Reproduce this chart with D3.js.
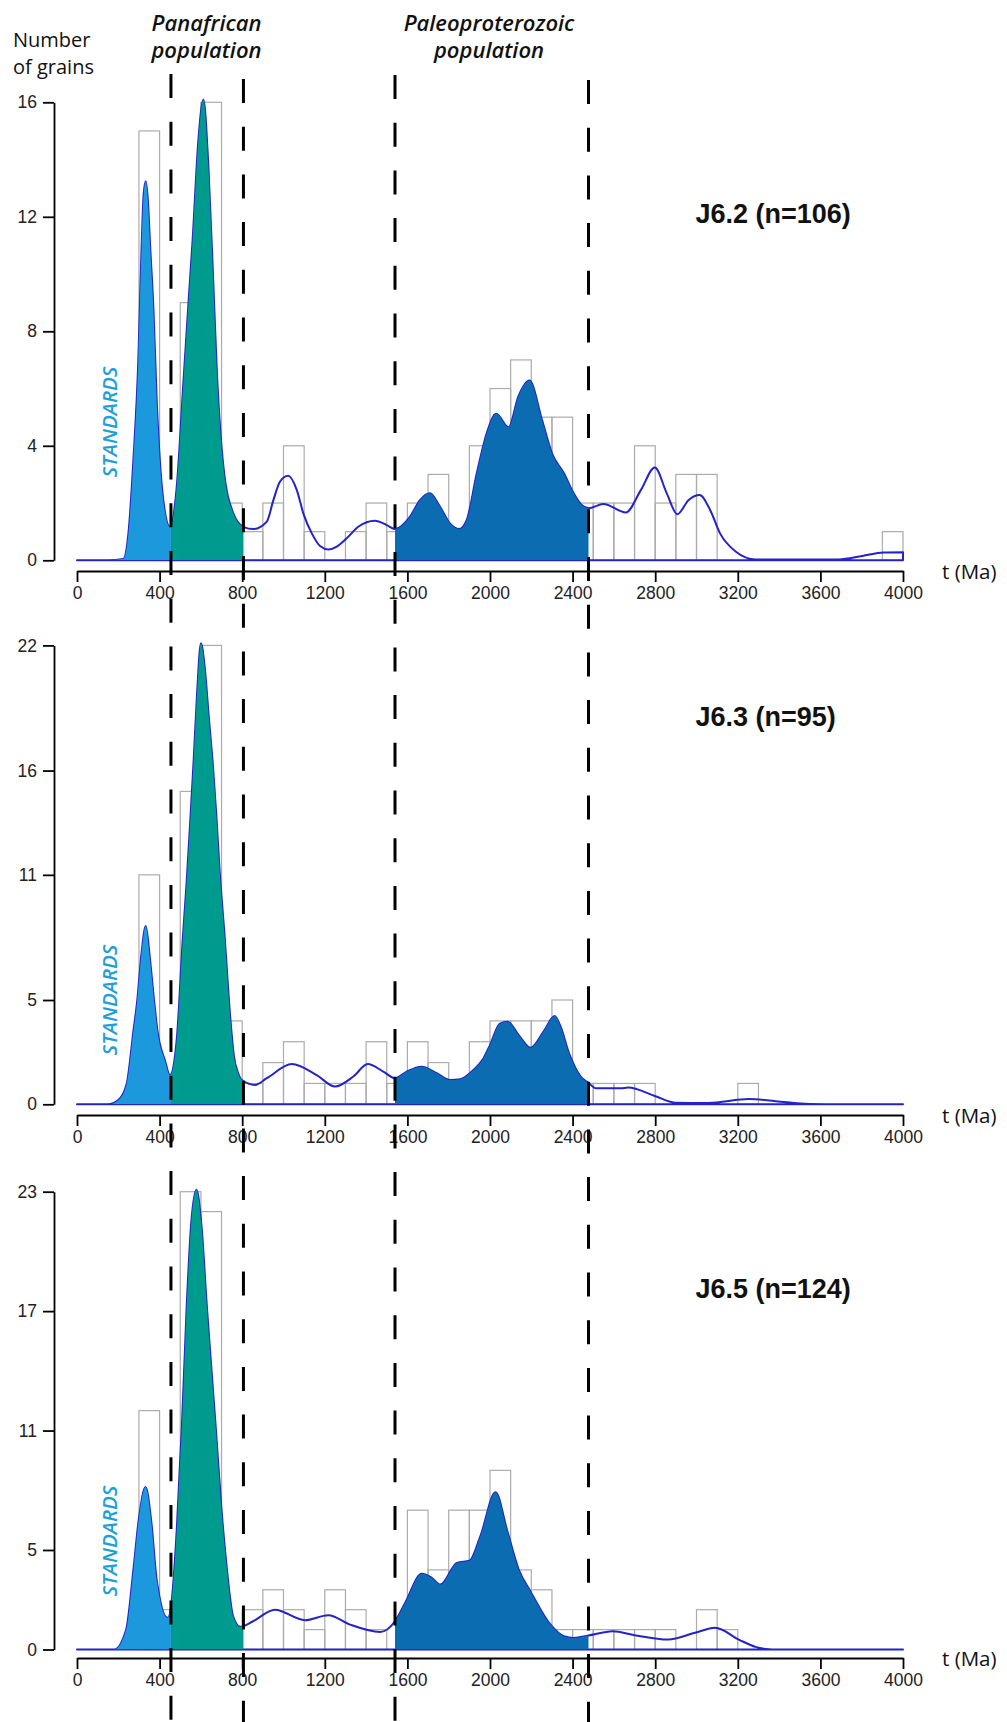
<!DOCTYPE html>
<html>
<head>
<meta charset="utf-8">
<script src="https://cdn.jsdelivr.net/npm/d3@7"></script>
<style>
  html, body { margin: 0; padding: 0; background: #fff; }
  svg { display: block; }
</style>
</head>
<body>
<svg id="chart" width="1007" height="1722"></svg>
<script>
// ---------------- DATA ----------------
const binStarts = [0,100,200,300,400,500,600,700,800,900,1000,1100,1200,1300,1400,1500,1600,1700,1800,1900,
                   2000,2100,2200,2300,2400,2500,2600,2700,2800,2900,3000,3100,3200,3300,3400,3500,3600,3700,3800,3900];
const binWidth = 100;

const counts1 = [0,0,0,15,1,9,16,2,1,2,4,1,0,1,2,1,2,3,0,4,6,7,5,5,2,2,2,4,2,3,3,0,0,0,0,0,0,0,0,1];
const counts2 = [0,0,0,11,0,15,22,4,1,2,3,1,1,1,3,1,3,2,0,3,4,4,4,5,1,1,1,1,0,0,0,0,1,0,0,0,0,0,0,0];
const counts3 = [0,0,0,12,2,23,22,1,2,3,2,1,3,2,1,0,7,4,7,7,9,4,3,1,1,1,1,1,1,0,2,1,0,0,0,0,0,0,0,0];

// probability density curves: [age (Ma), height in grains]
const kde1 = [[0,0],[150,0],[224,0.05],[249,0.94],[273,3.5],[297,7.0],[313,11.0],[323,12.8],[333,13.24],[343,12.6],
  [354,11.0],[370,8.8],[386,5.6],[418,2.1],[450,1.17],[483,2.57],[515,6.19],[539,8.9],[560,11.2],[587,14.6],
  [612,16.1],[636,13.8],[660,9.7],[676,6.8],[709,3.27],[757,1.64],[805,1.17],[854,1.09],[919,1.35],[951,2.1],
  [983,2.75],[1023,2.95],[1064,2.46],[1096,1.64],[1137,0.94],[1177,0.5],[1217,0.38],[1258,0.48],[1306,0.77],
  [1362,1.17],[1443,1.38],[1500,1.23],[1540,1.09],[1613,1.53],[1661,2.1],[1709,2.34],[1758,1.87],[1806,1.29],
  [1851,1.09],[1887,1.4],[1936,3.04],[1984,4.44],[2030,5.12],[2090,4.65],[2137,5.72],[2191,6.28],[2252,4.9],
  [2300,3.74],[2358,3.04],[2405,2.34],[2444,1.93],[2477,1.82],[2549,1.97],[2658,1.67],[2731,2.46],[2798,3.24],
  [2856,2.34],[2907,1.61],[2961,2.1],[3015,2.28],[3066,1.76],[3114,0.94],[3191,0.3],[3286,0.03],[3689,0.03],
  [3803,0.15],[3905,0.27],[4000,0.28]];

const kde2 = [[0,0],[150,0],[200,0.2],[241,1.0],[273,3.5],[292,5.0],[312,7.2],[333,8.55],[353,7.0],[373,5.0],
  [390,3.5],[426,2.1],[450,1.4],[483,3.1],[512,7.9],[530,10.5],[548,13.5],[565,16.5],[582,19.8],[600,22.1],
  [618,21.0],[638,18.6],[660,16.0],[675,13.8],[690,11.3],[716,7.9],[741,4.3],[760,2.3],[780,1.5],[800,1.15],
  [862,0.93],[919,1.25],[1040,1.93],
  [1161,1.4],[1249,0.85],[1338,1.33],[1408,1.93],[1483,1.57],[1540,1.25],[1597,1.57],[1669,1.8],[1742,1.49],
  [1806,1.16],[1855,1.2],[1919,1.64],[1968,2.2],[2000,2.84],[2048,3.87],[2085,3.96],[2140,3.3],[2196,2.71],
  [2260,3.5],[2313,4.23],[2342,3.72],[2383,2.44],[2440,1.32],[2476,1.03],[2513,0.77],[2635,0.77],[2668,0.8],
  [2798,0.4],[2895,0.08],[3058,0.06],[3254,0.25],[3384,0.15],[3547,0.02],[3700,0],[4000,0]];

const kde3 = [[0,0],[181,0],[238,1.0],[273,4.0],[300,6.6],[332,8.16],[360,6.4],[386,3.5],[439,1.59],[483,6.0],
  [499,9.4],[507,11.0],[531,17.2],[553,21.4],[578,23.1],[602,21.4],[629,17.2],[673,11.0],[700,7.0],[723,4.34],
  [756,1.67],[790,1.14],[853,1.42],[958,2.0],[1104,1.47],[1217,1.72],[1322,1.25],[1468,0.88],[1540,1.42],
  [1589,2.34],[1670,3.81],[1718,3.6],[1759,3.26],[1840,4.35],[1901,4.46],[1953,5.68],[2027,7.9],[2082,6.02],
  [2139,4.02],[2196,2.92],[2293,1.25],[2358,0.67],[2407,0.58],[2476,0.7],[2595,0.92],[2700,0.72],[2863,0.5],
  [2993,0.84],[3091,1.09],[3205,0.5],[3286,0.13],[3335,0.03],[3400,0],[4000,0]];

const yTicks1 = [0,4,8,12,16];
const yTicks2 = [0,5,11,16,22];
const yTicks3 = [0,5,11,17,23];
const yMax = [16,22,23];
const xTicks = [0,400,800,1200,1600,2000,2400,2800,3200,3600,4000];
const titles = ["J6.2 (n=106)","J6.3 (n=95)","J6.5 (n=124)"];
// population limits (Ma): standards | Panafrican | ... | Paleoproterozoic
const limits = [455, 806, 1540, 2477];
const regions = [
  {from: 0,    to: 455,  color: "#1c98dc"},
  {from: 455,  to: 806,  color: "#009b8f"},
  {from: 1540, to: 2477, color: "#0b6cb1"}
];

// ---------------- LAYOUT ----------------
const svg = d3.select("#chart");
const x = d3.scaleLinear().domain([0, 4000]).range([77, 903]);

const panels = [
  {zero: 560.3,  top: 102.3,  axisY: 571,    ticks: yTicks1, counts: counts1, kde: kde1, titleY: 223,  stdY: 422},
  {zero: 1104.3, top: 645.4,  axisY: 1115,   ticks: yTicks2, counts: counts2, kde: kde2, titleY: 726,  stdY: 1000},
  {zero: 1649.5, top: 1191.7, axisY: 1658,   ticks: yTicks3, counts: counts3, kde: kde3, titleY: 1298, stdY: 1541}
];

const curveColor = "#2323c8";
const defs = svg.append("defs");

panels.forEach((p, pi) => {
  const y = d3.scaleLinear().domain([0, yMax[pi]]).range([p.zero, p.top]);
  const g = svg.append("g");

  // histogram bars
  g.append("g").selectAll("rect")
    .data(binStarts.map((b, i) => ({b, c: p.counts[i]})).filter(d => d.c > 0))
    .join("rect")
    .attr("x", d => x(d.b))
    .attr("y", d => y(d.c))
    .attr("width", d => x(d.b + binWidth) - x(d.b))
    .attr("height", d => y(0) - y(d.c))
    .attr("fill", "none")
    .attr("stroke", "#ababab")
    .attr("stroke-width", 1.2);

  const area = d3.area()
    .x(d => x(d[0]))
    .y0(y(0))
    .y1(d => y(d[1]))
    .curve(d3.curveMonotoneX);

  // outline of density curve (closed on baseline)
  g.append("path")
    .attr("d", area(p.kde))
    .attr("fill", "none")
    .attr("stroke", curveColor)
    .attr("stroke-width", 2)
    .attr("stroke-linejoin", "round");

  // coloured population fills
  regions.forEach((r, ri) => {
    const id = `clip-${pi}-${ri}`;
    defs.append("clipPath").attr("id", id)
      .append("rect")
      .attr("x", x(r.from)).attr("y", p.top - 20)
      .attr("width", x(r.to) - x(r.from))
      .attr("height", p.zero - p.top + 20);
    g.append("path")
      .attr("d", area(p.kde))
      .attr("fill", r.color)
      .attr("clip-path", `url(#${id})`);
  });

  // y axis
  const yAxis = d3.axisLeft(y).tickValues(p.ticks).tickSize(11).tickSizeOuter(0).tickPadding(6)
    .tickFormat(d3.format("d"));
  const ya = svg.append("g").attr("transform", "translate(54,0)").call(yAxis);
  ya.select(".domain").attr("stroke", "#000").attr("stroke-width", 1.8);
  ya.selectAll(".tick line").attr("stroke", "#000").attr("stroke-width", 1.8);
  ya.selectAll(".tick text").attr("font-family", "Liberation Sans, Arial, sans-serif")
    .attr("font-size", 17.5).attr("fill", "#222");

  // x axis
  const xAxis = d3.axisBottom(x).tickValues(xTicks).tickSize(11).tickSizeOuter(0).tickPadding(5)
    .tickFormat(d3.format("d"));
  const xa = svg.append("g").attr("transform", `translate(0,${p.axisY})`).call(xAxis);
  xa.select(".domain").attr("stroke", "#000").attr("stroke-width", 1.8);
  xa.selectAll(".tick line").attr("stroke", "#000").attr("stroke-width", 1.8);
  xa.selectAll(".tick text").attr("font-family", "Liberation Sans, Arial, sans-serif")
    .attr("font-size", 17.5).attr("fill", "#222");

  svg.append("text")
    .attr("x", 942).attr("y", p.axisY + 8)
    .attr("font-family", "Open Sans, sans-serif")
    .attr("font-size", 20.5).attr("fill", "#111")
    .text("t (Ma)");

  // title
  svg.append("text")
    .attr("x", 695.5).attr("y", p.titleY)
    .attr("font-family", "Liberation Sans, Arial, sans-serif")
    .attr("font-weight", "bold")
    .attr("font-size", 27).attr("fill", "#111")
    .text(titles[pi]);

  // STANDARDS label
  svg.append("text")
    .attr("transform", `translate(110,${p.stdY}) rotate(-90)`)
    .attr("text-anchor", "middle")
    .attr("dy", "0.36em")
    .attr("font-family", "Open Sans, sans-serif")
    .attr("font-style", "italic").attr("font-weight", 600)
    .attr("font-size", 20.5).attr("fill", "#1f9fda")
    .text("STANDARDS");
});

// dashed population limits, spanning the whole figure
const dashStarts = [74, 79, 75, 80];
svg.append("g").selectAll("line")
  .data(limits)
  .join("line")
  .attr("x1", d => x(d)).attr("x2", d => x(d))
  .attr("y1", (d, i) => dashStarts[i]).attr("y2", 1722)
  .attr("stroke", "#000")
  .attr("stroke-width", 3)
  .attr("stroke-dasharray", "24 23.7");

// header texts
const header = svg.append("g").attr("font-family", "Open Sans, sans-serif").attr("fill", "#111");
header.append("text").attr("x", 13).attr("y", 46.5).attr("font-size", 20).text("Number");
header.append("text").attr("x", 13).attr("y", 74).attr("font-size", 20).text("of grains");

const popFont = {style: "italic", weight: 600, size: 22};
[["Panafrican", 206.5, 30.5], ["population", 206.5, 58.3],
 ["Paleoproterozoic", 489, 30.5], ["population", 489, 58.3]].forEach(([t, cx, by]) => {
  header.append("text").attr("x", cx).attr("y", by)
    .attr("text-anchor", "middle")
    .attr("font-style", popFont.style).attr("font-weight", popFont.weight)
    .attr("font-size", popFont.size)
    .text(t);
});
</script>
</body>
</html>
